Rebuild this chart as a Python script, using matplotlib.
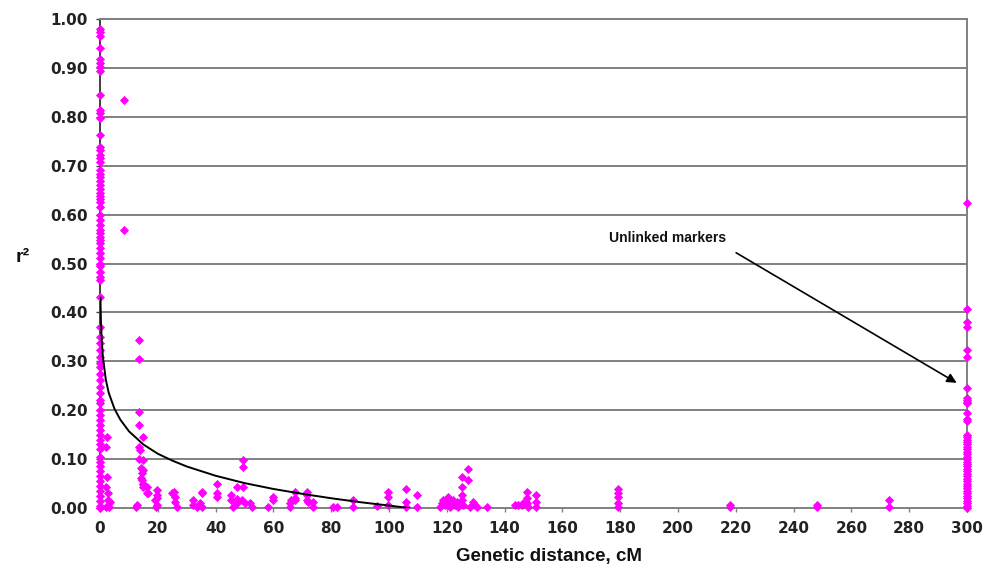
import matplotlib
matplotlib.use("Agg")
import matplotlib.pyplot as plt
from matplotlib.ticker import FormatStrFormatter

# ---------------- data ----------------
# r2 values of marker pairs at ~0 cM
col0_r2 = [0.980, 0.973, 0.966, 0.940, 0.918, 0.909, 0.902, 0.894, 0.845,
           0.814, 0.807, 0.797, 0.763, 0.739, 0.732, 0.722, 0.715, 0.708,
           0.691, 0.684, 0.676, 0.668, 0.660, 0.652, 0.645, 0.638, 0.632,
           0.626, 0.616, 0.599, 0.589, 0.579, 0.568, 0.562, 0.555, 0.548,
           0.541, 0.531, 0.521, 0.511, 0.500, 0.494, 0.483, 0.473, 0.466,
           0.432, 0.371, 0.350, 0.337, 0.323, 0.309, 0.296, 0.289, 0.275,
           0.262, 0.248, 0.235, 0.221, 0.215, 0.200, 0.190, 0.180, 0.170,
           0.160, 0.150, 0.140, 0.130, 0.120, 0.105, 0.095, 0.085, 0.075,
           0.065, 0.055, 0.045, 0.035, 0.025, 0.015, 0.005, 0.000]

# r2 values of unlinked markers (plotted at 300 cM)
col300_r2 = [0.624, 0.408, 0.381, 0.370, 0.323, 0.308, 0.245, 0.225, 0.221,
             0.217, 0.214, 0.194, 0.183, 0.177, 0.150, 0.145, 0.140, 0.135,
             0.130, 0.125, 0.120, 0.115, 0.110, 0.105, 0.100, 0.095, 0.090,
             0.085, 0.080, 0.075, 0.070, 0.065, 0.060, 0.055, 0.050, 0.045,
             0.040, 0.035, 0.030, 0.025, 0.020, 0.015, 0.010, 0.005, 0.000]

# other marker pairs: genetic distance (cM) and r2
pair_cm = [8.3, 8.3, 13.6, 13.6,
           2.5, 2.2, 2.4, 2.2, 2.6, 2.0, 3.0, 2.9, 3.5,
           13.6, 13.6, 14.9, 13.6, 13.9, 13.6, 14.9, 14.2, 14.9, 14.5, 14.2,
           14.8, 14.8, 16.1, 12.5, 12.7, 14.4, 15.0, 16.2, 16.7,
           19.6, 19.6, 19.6, 19.6, 19.0, 19.4,
           24.8, 26.0, 26.0, 26.5, 25.5,
           32.3, 32.3, 33.5, 34.6, 35.2, 35.2, 35.2,
           40.4, 40.4, 40.4,
           45.5, 45.5, 46.0, 47.3, 47.3, 47.3, 49.6, 49.6, 49.6, 49.0, 50.2,
           51.9, 52.5,
           58.2, 60.0, 60.0, 65.7, 65.7, 66.0, 67.5, 67.5, 67.5,
           71.5, 71.5, 71.5, 72.0, 73.8, 73.8, 80.7, 81.9, 87.7, 87.7,
           95.7, 99.8, 99.8, 99.8, 106.0, 106.0, 106.0, 109.6, 109.6,
           117.6, 118.2, 118.8, 119.4, 120.0, 120.5, 121.1, 122.0, 122.3,
           122.8, 123.4, 124.0, 125.2, 125.2, 125.2, 125.2, 125.7, 127.5,
           127.5, 128.1, 129.2, 129.8, 130.4, 133.8,
           143.6, 144.7, 145.9, 146.5, 147.6, 147.6, 147.6, 148.2,
           150.9, 150.9, 150.9,
           179.4, 179.4, 179.4, 179.4, 179.4,
           218.0, 218.0, 248.0, 248.0, 273.1, 273.1]
pair_r2 = [0.834, 0.568, 0.343, 0.304,
           0.146, 0.125, 0.064, 0.044, 0.016, 0.003, 0.003, 0.030, 0.013,
           0.197, 0.170, 0.146, 0.125, 0.118, 0.101, 0.098, 0.081, 0.078,
           0.071, 0.061, 0.050, 0.044, 0.030, 0.003, 0.006, 0.057, 0.050,
           0.044, 0.030,
           0.037, 0.027, 0.020, 0.006, 0.016, 0.003,
           0.030, 0.023, 0.013, 0.003, 0.033,
           0.016, 0.006, 0.003, 0.010, 0.030, 0.033, 0.003,
           0.049, 0.030, 0.023,
           0.027, 0.016, 0.003, 0.044, 0.018, 0.010, 0.098, 0.083, 0.044,
           0.016, 0.010,
           0.010, 0.003,
           0.003, 0.023, 0.016, 0.010, 0.003, 0.016, 0.033, 0.020, 0.016,
           0.033, 0.027, 0.016, 0.013, 0.013, 0.003, 0.003, 0.003, 0.016,
           0.003,
           0.005, 0.033, 0.023, 0.006, 0.038, 0.013, 0.003, 0.027, 0.003,
           0.003, 0.010, 0.016, 0.006, 0.013, 0.022, 0.003, 0.010, 0.016,
           0.006, 0.013, 0.003, 0.027, 0.044, 0.064, 0.016, 0.006, 0.079,
           0.057, 0.003, 0.013, 0.006, 0.003, 0.003,
           0.006, 0.006, 0.006, 0.010, 0.033, 0.020, 0.010, 0.003,
           0.027, 0.013, 0.003,
           0.038, 0.030, 0.023, 0.010, 0.003,
           0.006, 0.003, 0.006, 0.003, 0.017, 0.003]

# fitted decay curve
curve_cm = [0.15, 0.3, 0.6, 1, 2, 3, 5, 7, 10, 15, 20, 25, 30, 40, 50, 60,
            70, 80, 90, 100, 107]
curve_r2 = [0.430, 0.388, 0.343, 0.309, 0.263, 0.236, 0.203, 0.181, 0.157,
            0.130, 0.111, 0.097, 0.085, 0.066, 0.051, 0.039, 0.029, 0.020,
            0.012, 0.005, 0.000]

y_ticks = [0.0, 0.1, 0.2, 0.3, 0.4, 0.5, 0.6, 0.7, 0.8, 0.9, 1.0]
x_ticks = list(range(0, 301, 20))

# ---------------- figure ----------------
fig = plt.figure(figsize=(9.95, 5.67), dpi=100)
ax = fig.add_axes([0.1005, 0.104, 0.8714, 0.8625])

magenta = "#FF00FF"
grid_col = "#808080"

for yv in y_ticks[1:]:
    ax.axhline(yv, color=grid_col, lw=1.4, zorder=1)

mk = dict(marker="D", markersize=3.8, color=magenta, linestyle="none",
          clip_on=False, zorder=4, markeredgewidth=0.6)
ax.plot([0] * len(col0_r2), col0_r2, **mk)
ax.plot([300] * len(col300_r2), col300_r2, **mk)
ax.plot(pair_cm, pair_r2, **mk)

ax.plot(curve_cm, curve_r2, color="black", lw=1.4, zorder=5)

ax.set_xlim(0, 300)
ax.set_ylim(0, 1.0)
ax.set_xticks(x_ticks)
ax.set_yticks(y_ticks)
ax.yaxis.set_major_formatter(FormatStrFormatter("%.2f"))

for s in ["top", "right", "bottom"]:
    ax.spines[s].set_color(grid_col)
    ax.spines[s].set_linewidth(1.4)
ax.spines["left"].set_color("#404040")
ax.spines["left"].set_linewidth(1.4)

ax.tick_params(axis="x", direction="out", length=3, width=1, color=grid_col,
               pad=6)
ax.tick_params(axis="y", direction="out", length=3, width=1, color="#404040",
               pad=6)
for lab in ax.get_xticklabels() + ax.get_yticklabels():
    lab.set_fontfamily("DejaVu Sans")
    lab.set_fontweight("bold")
    lab.set_fontsize(11)
    lab.set_color("#222222")

fig.text(0.5515, 0.019, "Genetic distance, cM", fontfamily="Liberation Sans",
         fontweight="bold", fontsize=13.5, color="#111111",
         ha="center", va="center")
fig.text(0.023, 0.545, "r²", fontfamily="Liberation Sans", fontweight="bold",
         fontsize=14, color="#111111", ha="center", va="center")

ax.text(196.5, 0.552, "Unlinked markers", fontfamily="Liberation Sans",
        fontweight="bold", fontsize=10, ha="center", va="center",
        color="#111111")
ax.annotate("", xy=(296.4, 0.256), xytext=(220.1, 0.522),
            arrowprops=dict(arrowstyle="-|>", color="black", lw=1.2,
                            mutation_scale=14, shrinkA=0, shrinkB=0),
            zorder=6)

fig.savefig("out.png", dpi=100, facecolor="white")
